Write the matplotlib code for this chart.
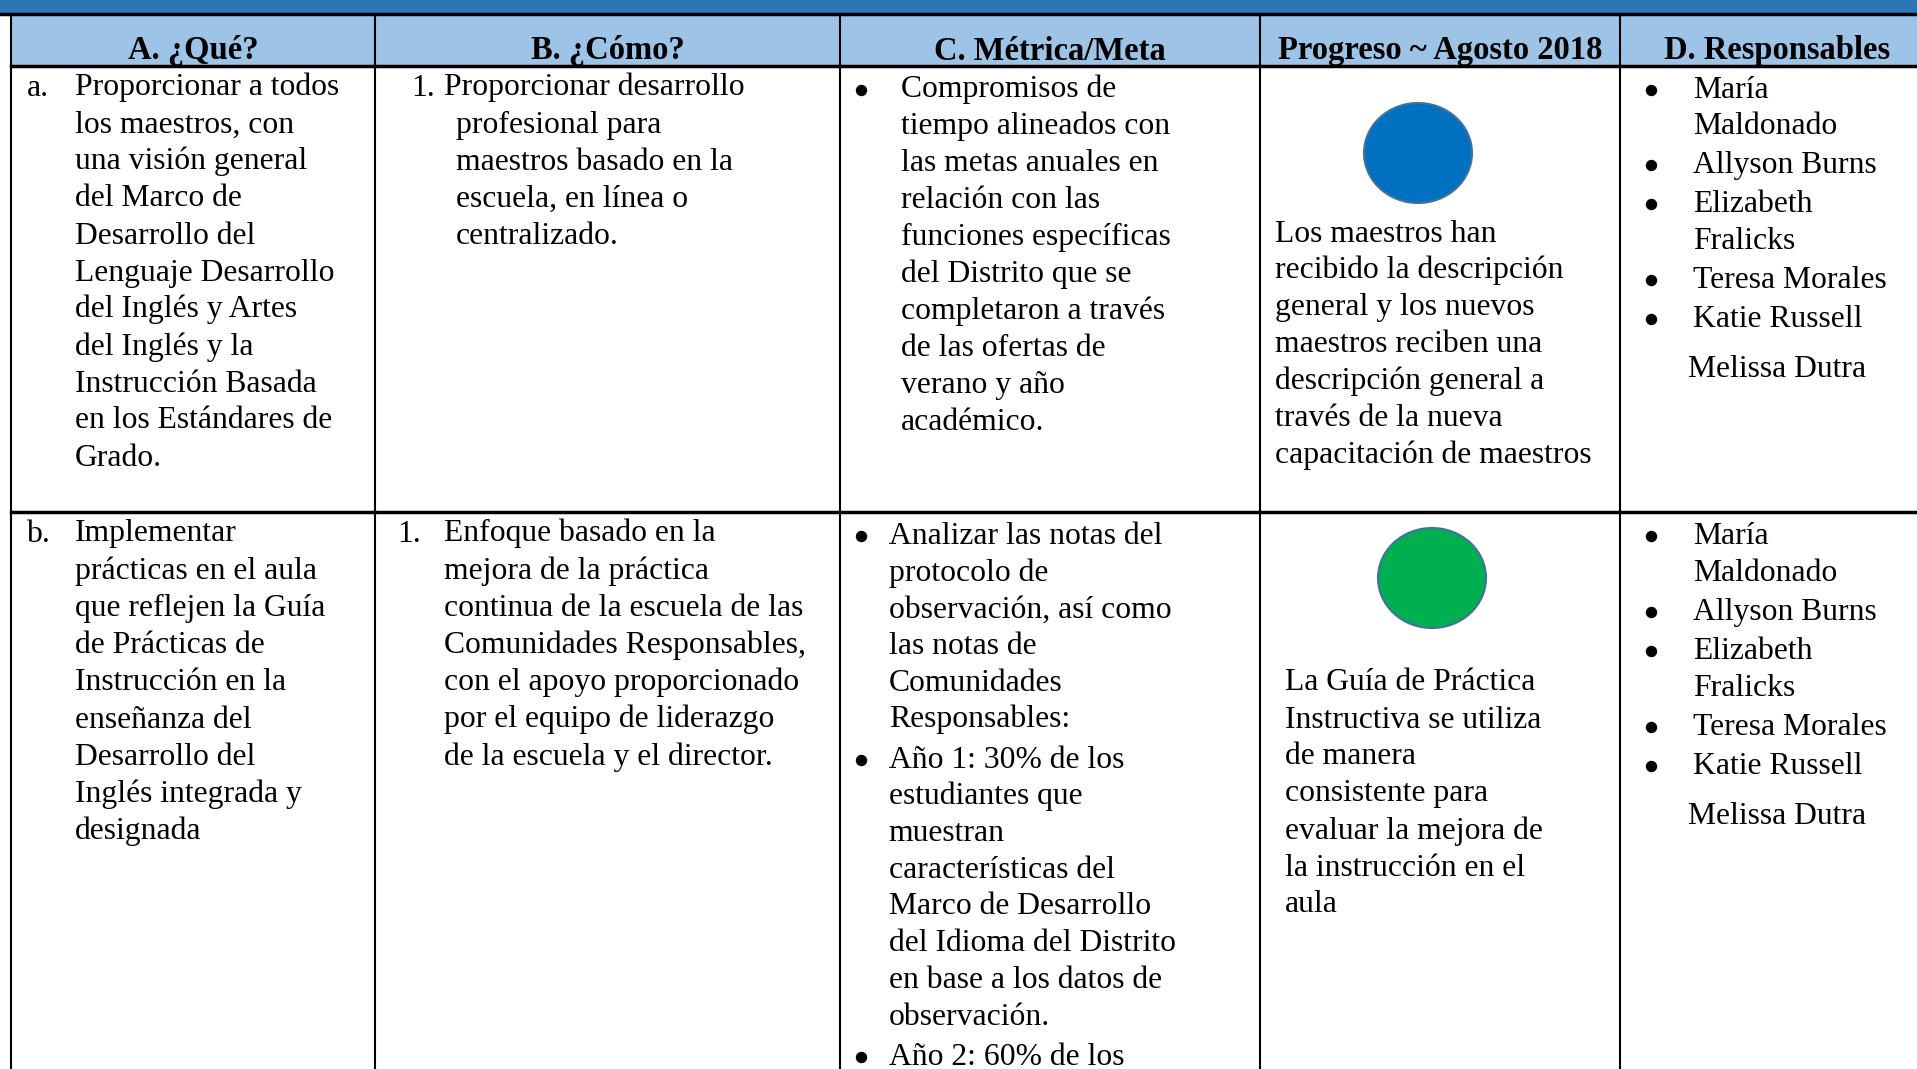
import matplotlib
matplotlib.use("Agg")
import matplotlib.pyplot as plt
from matplotlib.patches import Rectangle, Ellipse

# ---- table content ----
headers = ["A. ¿Qué?", "B. ¿Cómo?", "C. Métrica/Meta", "Progreso ~ Agosto 2018", "D. Responsables"]

row1_que = ["Proporcionar a todos", "los maestros, con", "una visión general", "del Marco de",
            "Desarrollo del", "Lenguaje Desarrollo", "del Inglés y Artes", "del Inglés y la",
            "Instrucción Basada", "en los Estándares de", "Grado."]
row1_como = ["Proporcionar desarrollo", "profesional para", "maestros basado en la",
             "escuela, en línea o", "centralizado."]
row1_metrica = [["Compromisos de", "tiempo alineados con", "las metas anuales en", "relación con las",
                 "funciones específicas", "del Distrito que se", "completaron a través",
                 "de las ofertas de", "verano y año", "académico."]]
row1_progreso = ["Los maestros han", "recibido la descripción", "general y los nuevos",
                 "maestros reciben una", "descripción general a", "través de la nueva",
                 "capacitación de maestros"]

row2_que = ["Implementar", "prácticas en el aula", "que reflejen la Guía", "de Prácticas de",
            "Instrucción en la", "enseñanza del", "Desarrollo del", "Inglés integrada y", "designada"]
row2_como = ["Enfoque basado en la", "mejora de la práctica", "continua de la escuela de las",
             "Comunidades Responsables,", "con el apoyo proporcionado", "por el equipo de liderazgo",
             "de la escuela y el director."]
row2_metrica = [["Analizar las notas del", "protocolo de", "observación, así como", "las notas de",
                 "Comunidades", "Responsables:"],
                ["Año 1: 30% de los", "estudiantes que", "muestran", "características del",
                 "Marco de Desarrollo", "del Idioma del Distrito", "en base a los datos de",
                 "observación."],
                ["Año 2: 60% de los"]]
row2_progreso = ["La Guía de Práctica", "Instructiva se utiliza", "de manera", "consistente para",
                 "evaluar la mejora de", "la instrucción en el", "aula"]

responsables = [["María", "Maldonado"], ["Allyson Burns"], ["Elizabeth", "Fralicks"],
                ["Teresa Morales"], ["Katie Russell"]]
extra_responsable = "Melissa Dutra"

row_markers = ["a.", "b."]
status_colors = ["#0070C0", "#00B050"]

# ---- layout (pixels) ----
W, H = 1917, 1069
col_x = [11, 375, 840, 1260, 1620, 1935]
FS = 22.8
LH = 37.0
FONT = "Liberation Serif"

fig = plt.figure(figsize=(W / 100, H / 100), dpi=100)
ax = fig.add_axes([0, 0, 1, 1])
ax.set_xlim(0, W)
ax.set_ylim(H, 0)
ax.axis("off")


def txt(x, y, s, **kw):
    ax.text(x, y, s, fontsize=FS, family=FONT, va="baseline", ha="left", color="black", **kw)


def lines(x, y0, items, lh=LH):
    for i, s in enumerate(items):
        txt(x, y0 + i * lh, s)
    return y0 + len(items) * lh


def bullets(xb, xt, y0, paras, gap=3.5, lh=LH):
    y = y0
    for p in paras:
        ax.plot(xb, y - 8, "o", color="black", markersize=8.2, markeredgewidth=0)
        y = lines(xt, y, p, lh) + gap
    return y


# backgrounds
ax.add_patch(Rectangle((0, 0), W, 13, color="#2E75B6", lw=0))
ax.add_patch(Rectangle((col_x[0], 14), W, 51, color="#9DC3E6", lw=0))

# grid lines
ax.plot([0, W], [14, 14], color="black", lw=2.5)
ax.plot([col_x[0], W], [65.5, 65.5], color="black", lw=2.5)
ax.plot([col_x[0], W], [512, 512], color="black", lw=2.5)
for x in col_x[:5]:
    ax.plot([x, x], [14, H], color="black", lw=1.5)

# headers
for i, h in enumerate(headers):
    cx = (col_x[i] + col_x[i + 1]) / 2
    ax.text(cx, 59.5, h, fontsize=23.5, family=FONT, weight="bold", ha="center", va="baseline")

# ---- row 1 ----
y1 = 95.5
txt(27, y1, row_markers[0])
lines(74.6, y1, row1_que)
txt(410.8, y1, "1.")
txt(443.8, y1, row1_como[0])
lines(456, y1 + LH, row1_como[1:])
bullets(861, 901, 97.5, row1_metrica, lh=36.9)
ax.add_patch(Ellipse((1418, 153), 108, 100, facecolor=status_colors[0], edgecolor="#41719C", lw=1.5))
lines(1275, 241.5, row1_progreso, lh=36.9)
y = bullets(1651, 1693, 97.5, responsables, gap=2.4, lh=36.7)
txt(1688, y + 11, extra_responsable)

# ---- row 2 ----
y2 = 541.5
txt(27, y2, row_markers[1])
lines(74.6, y2, row2_que, lh=37.2)
txt(397.3, y2, "1.")
lines(443.8, y2, row2_como, lh=37.2)
bullets(861, 888.8, 544, row2_metrica, gap=3.5, lh=36.7)
ax.add_patch(Ellipse((1432, 578), 108, 100, facecolor=status_colors[1], edgecolor="#41719C", lw=1.5))
lines(1285, 690.5, row2_progreso, lh=37.0)
y = bullets(1651, 1693, 544, responsables, gap=2.4, lh=36.7)
txt(1688, y + 11, extra_responsable)

fig.savefig("out.png", dpi=100)
plt.close(fig)
